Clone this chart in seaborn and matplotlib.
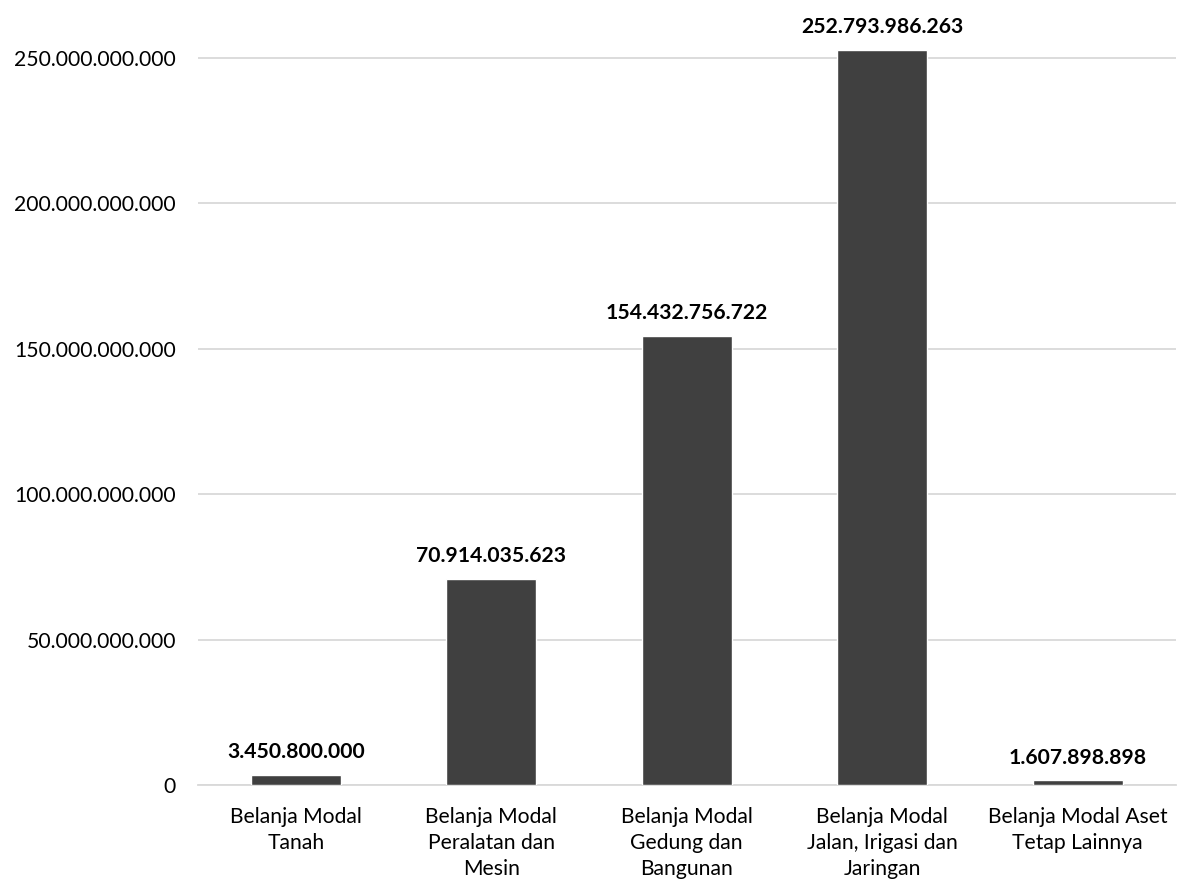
import matplotlib
matplotlib.use("Agg")
import matplotlib.pyplot as plt
import seaborn as sns
import pandas as pd
from matplotlib.ticker import FuncFormatter

categories = [
    "Belanja Modal\nTanah",
    "Belanja Modal\nPeralatan dan\nMesin",
    "Belanja Modal\nGedung dan\nBangunan",
    "Belanja Modal\nJalan, Irigasi dan\nJaringan",
    "Belanja Modal Aset\nTetap Lainnya",
]
values = [3450800000, 70914035623, 154432756722, 252793986263, 1607898898]
yticks = [0, 50e9, 100e9, 150e9, 200e9, 250e9]

sns.set_theme(style="white")
plt.rcParams['font.family'] = ['Lato', 'DejaVu Sans']

df = pd.DataFrame({"cat": categories, "val": values})

fig = plt.figure(figsize=(11.81, 8.85), dpi=100)
ax = fig.add_axes([198/1181, 1 - 785/885, 977.5/1181, 785/885])
sns.barplot(data=df, x="cat", y="val", color="#404040", width=0.46,
            saturation=1, ax=ax, zorder=3)

def fmt(v):
    return f"{int(round(v)):,}".replace(",", ".")

FS = 15.2
ax.set_ylim(0, 785 / (727.3 / 250e9))
ax.set_xlim(-0.5, len(categories) - 0.5)
ax.set_yticks(yticks)
ax.yaxis.set_major_formatter(FuncFormatter(lambda v, p: fmt(v)))
ax.grid(axis="y", color="#d9d9d9", linewidth=1.3, zorder=0)
ax.set_axisbelow(True)
for s in ["top", "right", "left"]:
    ax.spines[s].set_visible(False)
ax.spines["bottom"].set_color("#d9d9d9")
ax.spines["bottom"].set_linewidth(1.3)
ax.tick_params(axis="y", length=0, pad=16, labelsize=FS, labelcolor="#000000")
ax.tick_params(axis="x", length=0, pad=15.5, labelsize=FS, labelcolor="#000000")
for lbl in ax.get_xticklabels():
    lbl.set_linespacing(1.4)
ax.set_xlabel("")
ax.set_ylabel("")

for i, v in enumerate(values):
    ax.annotate(fmt(v), (i, v), xytext=(0, 9), textcoords="offset points",
                ha="center", va="bottom", fontsize=FS, fontweight="bold",
                color="#000000")

fig.savefig("out.png", dpi=100)
